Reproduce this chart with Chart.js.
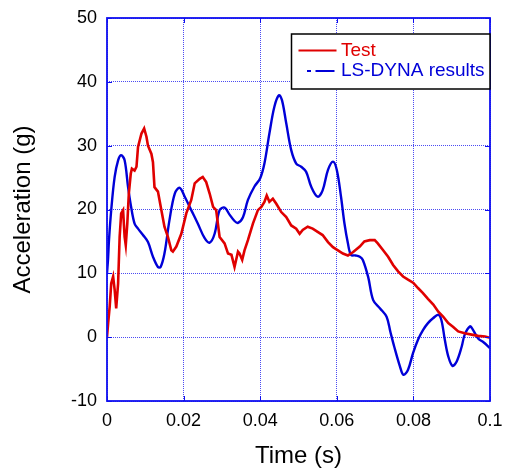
<!DOCTYPE html>
<html>
<head>
<meta charset="utf-8">
<script src="https://cdn.jsdelivr.net/npm/chart.js@4/dist/chart.umd.min.js"></script>
<style>
  html, body { margin: 0; padding: 0; background: #fff; }
  #chart { display: block; }
</style>
</head>
<body>
<canvas id="chart" width="505" height="472"></canvas>
<script>
/* data */
const testTime = [0, 0.0003, 0.0007, 0.0011, 0.0016, 0.0020, 0.0024, 0.0029, 0.0033, 0.0037, 0.0042, 0.0046, 0.0049, 0.0053, 0.0057, 0.0062, 0.0065, 0.0072, 0.0077, 0.0081, 0.0090, 0.0097, 0.0103, 0.0107, 0.0116, 0.0120, 0.0124, 0.0133, 0.0142, 0.0150, 0.0159, 0.0168, 0.0172, 0.0181, 0.0194, 0.0207, 0.0220, 0.0229, 0.0242, 0.0250, 0.0259, 0.0268, 0.0277, 0.0285, 0.0294, 0.0307, 0.0316, 0.0325, 0.0333, 0.0342, 0.0346, 0.0353, 0.0359, 0.0368, 0.0381, 0.0394, 0.0403, 0.0411, 0.0417, 0.0424, 0.0433, 0.0442, 0.0455, 0.0468, 0.0481, 0.0494, 0.0503, 0.0511, 0.0524, 0.0537, 0.0550, 0.0563, 0.0577, 0.0590, 0.0603, 0.0616, 0.0629, 0.0642, 0.0660, 0.0672, 0.0686, 0.0699, 0.0707, 0.0720, 0.0734, 0.0747, 0.0760, 0.0773, 0.0786, 0.0800, 0.0812, 0.0825, 0.0838, 0.0852, 0.0865, 0.0878, 0.0891, 0.0904, 0.0917, 0.0934, 0.0952, 0.0969, 0.0987, 0.1];
const testAccel = [0, 2.2, 4.8, 8.4, 9.5, 7.4, 4.5, 8.4, 15.7, 19.4, 19.9, 15.7, 14.4, 17.8, 22.5, 25.6, 26.4, 26.1, 26.7, 29.8, 31.9, 32.7, 31.4, 30.0, 28.7, 27.4, 23.5, 22.8, 19.9, 17.3, 15.7, 13.6, 13.4, 14.2, 16.2, 19.4, 21.5, 24.1, 24.8, 25.1, 24.3, 22.5, 20.4, 19.9, 15.7, 14.7, 13.1, 12.9, 11.0, 13.4, 13.1, 12.1, 13.6, 15.2, 17.8, 19.9, 20.4, 21.2, 22.2, 21.2, 21.7, 20.9, 19.6, 18.8, 17.5, 17.0, 16.2, 16.8, 17.3, 17.0, 16.5, 16.0, 14.9, 14.1, 13.6, 13.1, 12.8, 13.3, 14.2, 15.0, 15.2, 15.2, 14.7, 13.7, 12.6, 11.3, 10.3, 9.5, 9.0, 8.5, 7.7, 6.9, 6.0, 5.1, 4.0, 3.2, 2.2, 1.6, 0.9, 0.6, 0.4, 0.2, 0.1, -0.1];

const dynaTime = [0, 0.0003, 0.0005, 0.0011, 0.0020, 0.0029, 0.0037, 0.0046, 0.0055, 0.0063, 0.0072, 0.0081, 0.0094, 0.0107, 0.0120, 0.0133, 0.0140, 0.0150, 0.0163, 0.0177, 0.0190, 0.0203, 0.0220, 0.0237, 0.0255, 0.0268, 0.0281, 0.0294, 0.0307, 0.0320, 0.0333, 0.0342, 0.0355, 0.0368, 0.0385, 0.0400, 0.0411, 0.0424, 0.0437, 0.0449, 0.0457, 0.0468, 0.0481, 0.0494, 0.0507, 0.0520, 0.0533, 0.0550, 0.0563, 0.0577, 0.0590, 0.0600, 0.0611, 0.0620, 0.0629, 0.0637, 0.0649, 0.0660, 0.0668, 0.0682, 0.0695, 0.0713, 0.0730, 0.0740, 0.0750, 0.0765, 0.0774, 0.0786, 0.0799, 0.0812, 0.0825, 0.0838, 0.0852, 0.0865, 0.0873, 0.0882, 0.0891, 0.0902, 0.0913, 0.0926, 0.0934, 0.0948, 0.0956, 0.0969, 0.0983, 0.1];
const dynaAccel = [10.0, 12.5, 15.0, 19.9, 25.1, 27.7, 28.5, 27.7, 23.5, 20.4, 17.8, 17.0, 16.0, 14.9, 12.6, 11.0, 11.0, 13.1, 18.3, 22.5, 23.4, 22.0, 19.9, 17.8, 15.5, 14.8, 16.2, 19.9, 20.3, 19.2, 18.2, 17.9, 18.8, 21.5, 23.6, 24.9, 27.2, 31.9, 36.1, 37.9, 37.1, 33.5, 29.3, 27.2, 26.7, 25.9, 23.6, 22.0, 23.0, 26.2, 27.5, 26.2, 22.0, 17.8, 14.7, 12.9, 12.8, 12.6, 12.1, 9.4, 5.8, 4.5, 3.2, 0.8, -1.5, -4.6, -5.9, -5.1, -2.5, -0.4, 1.1, 2.2, 3.0, 3.5, 2.7, -0.4, -3.0, -4.5, -3.8, -1.5, 0.4, 1.7, 1.1, -0.2, -0.8, -1.7];

const xTicks = [0, 0.02, 0.04, 0.06, 0.08, 0.1];
const xTickLabels = ['0', '0.02', '0.04', '0.06', '0.08', '0.1'];
const yTicks = [-10, 0, 10, 20, 30, 40, 50];
const yTickLabels = ['-10', '0', '10', '20', '30', '40', '50'];

const seriesNames = ['Test', 'LS-DYNA results'];
const seriesColors = ['#e00000', '#0000d8'];

const FONT = 'Arial, "Liberation Sans", sans-serif';
const AXIS_BLUE = '#1010f0';
const GRID_BLUE = 'rgba(30,30,240,0.8)';

function toPoints(xs, ys){
    return xs.map((x, i) => ({x: x, y: ys[i]}));
}

/* blue box with inward ticks like the original plot */
const framePlugin = {
    id: 'frame',
    afterDatasetsDraw(chart){
        const ctx = chart.ctx;
        const a = chart.chartArea;
        const sx = chart.scales.x, sy = chart.scales.y;
        const len = 5;
        ctx.save();
        ctx.strokeStyle = AXIS_BLUE;
        ctx.lineWidth = 1;
        ctx.beginPath();
        xTicks.forEach(v => {
            const px = Math.round(sx.getPixelForValue(v)) + 0.5;
            ctx.moveTo(px, a.bottom); ctx.lineTo(px, a.bottom - len);
            ctx.moveTo(px, a.top); ctx.lineTo(px, a.top + len);
        });
        yTicks.forEach(v => {
            const py = Math.round(sy.getPixelForValue(v)) + 0.5;
            ctx.moveTo(a.left, py); ctx.lineTo(a.left + len, py);
            ctx.moveTo(a.right, py); ctx.lineTo(a.right - len, py);
        });
        ctx.stroke();
        ctx.lineWidth = 1.8;
        ctx.strokeRect(a.left, a.top, a.right - a.left, a.bottom - a.top);
        ctx.restore();
    }
};

/* legend box in the top right corner */
const legendPlugin = {
    id: 'boxLegend',
    afterDraw(chart){
        const ctx = chart.ctx;
        const a = chart.chartArea;
        const right = a.right, left = right - 198.5, top = a.top + 16, h = 55;
        ctx.save();
        ctx.fillStyle = '#fff';
        ctx.fillRect(left, top, right - left, h);
        ctx.strokeStyle = '#000';
        ctx.lineWidth = 1.5;
        ctx.strokeRect(left, top, right - left, h);

        ctx.font = '19px ' + FONT;
        ctx.textBaseline = 'middle';
        ctx.textAlign = 'left';
        // Test
        let y = top + 16.5;
        ctx.strokeStyle = seriesColors[0];
        ctx.lineWidth = 2;
        ctx.beginPath();
        ctx.moveTo(left + 7, y); ctx.lineTo(left + 45, y);
        ctx.stroke();
        ctx.fillStyle = seriesColors[0];
        ctx.fillText(seriesNames[0], left + 49.5, y);
        // LS-DYNA
        y = top + 37;
        ctx.strokeStyle = seriesColors[1];
        ctx.beginPath();
        ctx.moveTo(left + 15.5, y); ctx.lineTo(left + 19.5, y);
        ctx.moveTo(left + 24, y); ctx.lineTo(left + 43, y);
        ctx.stroke();
        ctx.fillStyle = seriesColors[1];
        ctx.fillText(seriesNames[1], left + 49.5, y);
        ctx.restore();
    }
};

const ctx = document.getElementById('chart').getContext('2d');
new Chart(ctx, {
    type: 'line',
    data: {
        datasets: [{
            label: seriesNames[0],
            data: toPoints(testTime, testAccel),
            borderColor: seriesColors[0],
            borderWidth: 2.6,
            pointRadius: 0,
            tension: 0,
            fill: false
        }, {
            label: seriesNames[1],
            data: toPoints(dynaTime, dynaAccel),
            borderColor: seriesColors[1],
            borderWidth: 2.4,
            pointRadius: 0,
            tension: 0.35,
            fill: false
        }]
    },
    options: {
        responsive: false,
        animation: false,
        layout: { padding: { left: 0, right: 15, top: 18, bottom: 0 } },
        plugins: { legend: { display: false }, tooltip: { enabled: false } },
        scales: {
            x: {
                type: 'linear',
                min: 0, max: 0.1,
                afterBuildTicks: s => { s.ticks = xTicks.map(v => ({ value: v })); },
                afterFit: s => { s.height = 71; },
                ticks: {
                    callback: (v, i) => xTickLabels[i],
                    color: '#000',
                    font: { family: FONT, size: 18 },
                    padding: 0,
                    maxRotation: 0,
                    autoSkip: false
                },
                // invisible tick marks only push the labels away from the axis
                grid: { color: GRID_BLUE, lineWidth: 1, drawTicks: true, tickLength: 9, tickColor: 'rgba(0,0,0,0)' },
                border: { display: false, dash: [1, 1] },
                title: { display: true, text: 'Time (s)', color: '#000', font: { family: FONT, size: 24 }, padding: { top: 0, bottom: 1 } }
            },
            y: {
                min: -10, max: 50,
                afterBuildTicks: s => { s.ticks = yTicks.map(v => ({ value: v })); },
                afterFit: s => { s.width = 107; },
                ticks: {
                    callback: (v, i) => yTickLabels[i],
                    color: '#000',
                    font: { family: FONT, size: 18 },
                    padding: 0
                },
                grid: { color: GRID_BLUE, lineWidth: 1, drawTicks: true, tickLength: 10, tickColor: 'rgba(0,0,0,0)' },
                border: { display: false, dash: [1, 1] },
                title: { display: true, text: 'Acceleration (g)', color: '#000', font: { family: FONT, size: 24 }, padding: { top: 9, bottom: 0 } }
            }
        }
    },
    plugins: [framePlugin, legendPlugin]
});
</script>
</body>
</html>
